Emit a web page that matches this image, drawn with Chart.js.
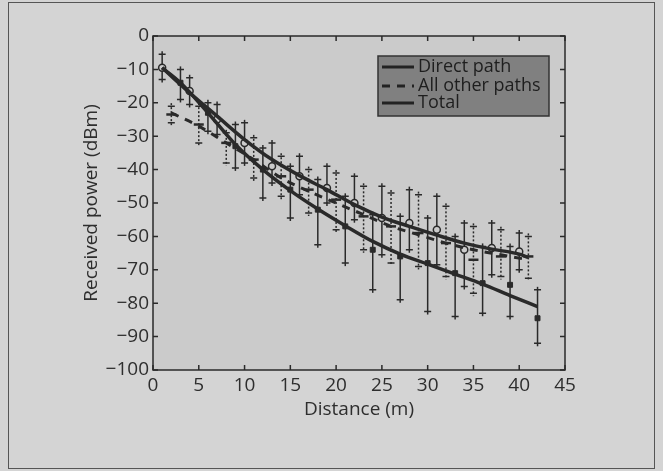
<!DOCTYPE html>
<html>
<head>
<meta charset="utf-8">
<script src="https://cdn.jsdelivr.net/npm/chart.js@4.4.1/dist/chart.umd.min.js"></script>
<style>
  html, body { margin: 0; padding: 0; background: #d4d4d4; }
  #wrap { width: 663px; height: 471px; }
</style>
</head>
<body>
<div id="wrap"><canvas id="powerChart" width="663" height="471"></canvas></div>
<script>
// measured points (each series shifted 1 m from the others)
const directDist = [3, 6, 9, 12, 15, 18, 21, 24, 27, 30, 33, 36, 39, 42];
const directMean = [-14, -23, -33, -40, -46, -52, -57, -64, -66, -68, -71, -74, -74.5, -84.5];
const directLow  = [-19, -28.5, -39.5, -48.5, -54.5, -62.5, -68, -76, -79, -82.5, -84, -83, -84, -92];
const directHigh = [-10, -20, -26.5, -33.5, -39, -43, -48, -53.5, -54, -54.5, -60, -63, -63, -76];

const totalDist = [1, 4, 7, 10, 13, 16, 19, 22, 25, 28, 31, 34, 37, 40];
const totalMean = [-9.5, -16.5, -25, -32, -39, -42, -45.5, -50, -54.5, -56, -58, -64, -63.5, -64.5];
const totalLow  = [-13, -20.5, -29.5, -38, -44, -47.5, -50, -55, -65.5, -64, -68.5, -75, -71.5, -70];
const totalHigh = [-5.5, -12.5, -20.5, -26, -32, -36, -39, -42, -45, -46, -48, -56, -56, -59];

const otherDist = [2, 5, 8, 11, 14, 17, 20, 23, 26, 29, 32, 35, 38, 41];
const otherMean = [-23.5, -26.5, -32, -37, -42, -46, -49, -54, -57, -59, -62, -67, -66, -66];
const otherLow  = [-26, -32, -38, -42.5, -48, -53, -58, -64, -68, -69, -72, -77, -72, -72.5];
const otherHigh = [-21, -21, -29, -30.5, -36, -40, -41, -45, -47, -47.5, -51, -57, -58, -60];

// fitted curves
const fitDirectDist = [1, 3, 6, 9, 12, 15, 18, 21, 24, 27, 30, 33, 36, 39, 42];
const fitDirect = [-9.5, -14, -23, -32.5, -40, -46.3, -51.8, -56.8, -61.5, -65.3, -68.3, -71.3, -74.3, -77.7, -81];
const fitTotalDist = [1, 4, 7, 10, 13, 16, 19, 22, 25, 28, 31, 34, 37, 40, 41];
const fitTotal = [-9.5, -17, -24, -31, -37, -41.8, -46, -50.5, -54.2, -57, -59.6, -62, -63.8, -65.3, -66.3];
const fitOtherDist = [2, 5, 8, 11, 14, 17, 20, 23, 26, 29, 32, 35, 38, 41];
const fitOther = [-23, -27, -32, -37, -42.5, -46.5, -50, -53.5, -57, -59.5, -62, -64, -65.5, -67];

const xTicks = [0, 5, 10, 15, 20, 25, 30, 35, 40, 45];
const yTicks = [0, -10, -20, -30, -40, -50, -60, -70, -80, -90, -100];

const ink = "#2a2a2a";
const plotBg = "#cbcbcb";
const textColor = "#2e2e2e";
const axisFont = { family: "'Open Sans'", size: 19 };

const pts = (xs, ys) => xs.map((x, i) => ({ x, y: ys[i] }));

const errorBars = {
    id: "errorBars",
    beforeDatasetsDraw(chart) {
        const { ctx, scales: { x, y } } = chart;
        chart.data.datasets.forEach((ds, di) => {
            if (!ds.errLow || !chart.isDatasetVisible(di)) return;
            ctx.save();
            ctx.strokeStyle = ink;
            ctx.lineWidth = 1.5;
            ds.data.forEach((p, i) => {
                const px = x.getPixelForValue(p.x);
                const lo = y.getPixelForValue(ds.errLow[i]);
                const hi = y.getPixelForValue(ds.errHigh[i]);
                ctx.setLineDash(ds.dotted ? [2, 2] : []);
                ctx.beginPath();
                ctx.moveTo(px, hi - 3);
                ctx.lineTo(px, lo + 3);
                ctx.stroke();
                ctx.setLineDash([]);
                ctx.beginPath();
                ctx.moveTo(px - 3.5, hi);
                ctx.lineTo(px + 3.5, hi);
                ctx.moveTo(px - 3.5, lo);
                ctx.lineTo(px + 3.5, lo);
                ctx.stroke();
            });
            ctx.restore();
        });
    }
};

const frame = {
    id: "frame",
    beforeDraw(chart) {
        const { ctx, chartArea: a } = chart;
        ctx.save();
        ctx.fillStyle = "#d4d4d4";
        ctx.fillRect(0, 0, chart.width, chart.height);
        ctx.strokeStyle = "#555";
        ctx.lineWidth = 1;
        ctx.strokeRect(8.5, 2.5, 646, 466);
        ctx.fillStyle = plotBg;
        ctx.fillRect(a.left, a.top, a.right - a.left, a.bottom - a.top);
        ctx.restore();
    },
    afterDatasetsDraw(chart) {
        const { ctx, chartArea: a, scales: { x, y } } = chart;
        ctx.save();
        ctx.strokeStyle = ink;
        ctx.lineWidth = 1.5;
        ctx.strokeRect(a.left, a.top, a.right - a.left, a.bottom - a.top);
        ctx.beginPath();
        xTicks.forEach(v => {
            const px = x.getPixelForValue(v);
            ctx.moveTo(px, a.bottom); ctx.lineTo(px, a.bottom - 5);
            ctx.moveTo(px, a.top); ctx.lineTo(px, a.top + 5);
        });
        yTicks.forEach(v => {
            const py = y.getPixelForValue(v);
            ctx.moveTo(a.left, py); ctx.lineTo(a.left + 5, py);
            ctx.moveTo(a.right, py); ctx.lineTo(a.right - 5, py);
        });
        ctx.stroke();

        // legend box
        ctx.fillStyle = "#808080";
        ctx.fillRect(378, 56, 171, 60);
        ctx.strokeStyle = "#333";
        ctx.strokeRect(378, 56, 171, 60);
        const rows = [67, 86, 103];
        ctx.font = "18px 'Open Sans'";
        ctx.textBaseline = "middle";
        [0, 1, 2].forEach((di, r) => {
            const ds = chart.data.datasets[di];
            ctx.strokeStyle = "#222";
            ctx.lineWidth = 3;
            ctx.setLineDash(ds.borderDash || []);
            ctx.beginPath();
            ctx.moveTo(382, rows[r]);
            ctx.lineTo(414, rows[r]);
            ctx.stroke();
            ctx.setLineDash([]);
            ctx.fillStyle = "#1e1e1e";
            ctx.fillText(ds.label, 418, rows[r]);
        });
        ctx.restore();
    }
};

new Chart(document.getElementById("powerChart"), {
    type: "scatter",
    data: {
        datasets: [
            { label: "Direct path", data: pts(fitDirectDist, fitDirect), showLine: true,
              borderColor: ink, borderWidth: 3.5, pointRadius: 0, cubicInterpolationMode: "monotone" },
            { label: "All other paths", data: pts(fitOtherDist, fitOther), showLine: true,
              borderColor: ink, borderWidth: 3, borderDash: [8, 7], pointRadius: 0, cubicInterpolationMode: "monotone" },
            { label: "Total", data: pts(fitTotalDist, fitTotal), showLine: true,
              borderColor: ink, borderWidth: 3.5, pointRadius: 0, cubicInterpolationMode: "monotone" },
            { label: "direct measured", data: pts(directDist, directMean), errLow: directLow, errHigh: directHigh,
              pointStyle: "rect", pointRadius: 3.5, backgroundColor: ink, borderColor: ink },
            { label: "total measured", data: pts(totalDist, totalMean), errLow: totalLow, errHigh: totalHigh,
              pointStyle: "circle", pointRadius: 3.5, borderWidth: 1.5, backgroundColor: plotBg, borderColor: ink },
            { label: "other measured", data: pts(otherDist, otherMean), errLow: otherLow, errHigh: otherHigh, dotted: true,
              pointStyle: "line", pointRadius: 5, borderWidth: 2.5, borderColor: ink }
        ]
    },
    options: {
        responsive: false,
        animation: false,
        layout: { padding: { top: 36, right: 98, left: 0, bottom: 0 } },
        plugins: { legend: { display: false }, tooltip: { enabled: false } },
        scales: {
            x: {
                type: "linear", min: 0, max: 45,
                grid: { display: false, drawTicks: false },
                border: { display: false },
                afterBuildTicks: s => { s.ticks = xTicks.map(v => ({ value: v })); },
                afterFit: s => { s.height = 101; },
                ticks: { padding: 4, color: textColor, font: axisFont, maxRotation: 0 },
                title: { display: true, text: "Distance (m)", color: textColor,
                         font: axisFont, padding: { top: 0, bottom: 50 } }
            },
            y: {
                min: -100, max: 0,
                grid: { display: false, drawTicks: false },
                border: { display: false },
                afterBuildTicks: s => { s.ticks = yTicks.map(v => ({ value: v })); },
                afterFit: s => { s.width = 153; },
                ticks: { padding: 4, color: textColor, font: axisFont,
                         callback: v => String(v).replace("-", "\u2212") },
                title: { display: true, text: "Received power (dBm)", color: textColor,
                         font: axisFont, padding: { top: 80, bottom: 0 } }
            }
        }
    },
    plugins: [frame, errorBars]
});
</script>
</body>
</html>
